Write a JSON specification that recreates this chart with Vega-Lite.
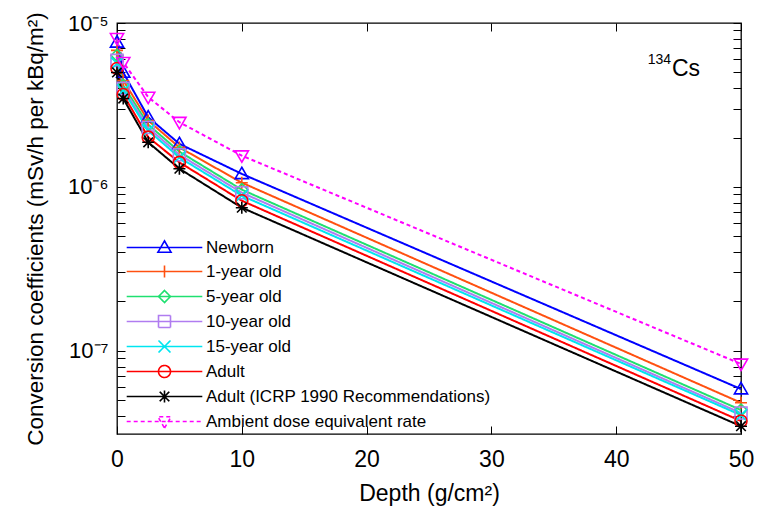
{
  "$schema": "https://vega.github.io/schema/vega-lite/v6.json",
  "width": 624,
  "height": 411,
  "autosize": {"type": "none"},
  "padding": {"left": 117, "top": 23, "right": 19, "bottom": 78},
  "background": "white",
  "config": {
    "view": {"stroke": "black", "strokeWidth": 1.3},
    "font": "Liberation Sans",
    "axis": {"grid": false, "domain": false, "tickColor": "black", "tickWidth": 1, "labelColor": "black", "titleColor": "black", "titleFontWeight": "normal", "labelFont": "Liberation Sans", "titleFont": "Liberation Sans"},
    "legend": {"orient": "none", "legendX": 39, "legendY": 216, "title": null, "padding": 0, "labelFont": "Liberation Sans", "labelFontSize": 17, "labelColor": "black", "labelLimit": 500, "symbolSize": 144, "symbolStrokeWidth": 1.6, "rowPadding": 6, "labelOffset": 33}
  },
  "data": {"values": [
    {"series": "Newborn", "depth": 0, "value": 7.62e-6},
    {"series": "Newborn", "depth": 0.5, "value": 4.99e-6},
    {"series": "Newborn", "depth": 2.5, "value": 2.66e-6},
    {"series": "Newborn", "depth": 5, "value": 1.83e-6},
    {"series": "Newborn", "depth": 10, "value": 1.20e-6},
    {"series": "Newborn", "depth": 50, "value": 5.83e-8},
    {"series": "1-year old", "depth": 0, "value": 6.81e-6},
    {"series": "1-year old", "depth": 0.5, "value": 4.46e-6},
    {"series": "1-year old", "depth": 2.5, "value": 2.54e-6},
    {"series": "1-year old", "depth": 5, "value": 1.74e-6},
    {"series": "1-year old", "depth": 10, "value": 1.06e-6},
    {"series": "1-year old", "depth": 50, "value": 4.81e-8},
    {"series": "5-year old", "depth": 0, "value": 6.34e-6},
    {"series": "5-year old", "depth": 0.5, "value": 4.16e-6},
    {"series": "5-year old", "depth": 2.5, "value": 2.40e-6},
    {"series": "5-year old", "depth": 5, "value": 1.64e-6},
    {"series": "5-year old", "depth": 10, "value": 9.61e-7},
    {"series": "5-year old", "depth": 50, "value": 4.34e-8},
    {"series": "10-year old", "depth": 0, "value": 5.91e-6},
    {"series": "10-year old", "depth": 0.5, "value": 3.99e-6},
    {"series": "10-year old", "depth": 2.5, "value": 2.30e-6},
    {"series": "10-year old", "depth": 5, "value": 1.57e-6},
    {"series": "10-year old", "depth": 10, "value": 9.21e-7},
    {"series": "10-year old", "depth": 50, "value": 4.16e-8},
    {"series": "15-year old", "depth": 0, "value": 5.67e-6},
    {"series": "15-year old", "depth": 0.5, "value": 3.88e-6},
    {"series": "15-year old", "depth": 2.5, "value": 2.21e-6},
    {"series": "15-year old", "depth": 5, "value": 1.51e-6},
    {"series": "15-year old", "depth": 10, "value": 8.83e-7},
    {"series": "15-year old", "depth": 50, "value": 4.04e-8},
    {"series": "Adult", "depth": 0, "value": 5.28e-6},
    {"series": "Adult", "depth": 0.5, "value": 3.66e-6},
    {"series": "Adult", "depth": 2.5, "value": 2.01e-6},
    {"series": "Adult", "depth": 5, "value": 1.41e-6},
    {"series": "Adult", "depth": 10, "value": 8.23e-7},
    {"series": "Adult", "depth": 50, "value": 3.72e-8},
    {"series": "Adult (ICRP 1990 Recommendations)", "depth": 0, "value": 4.99e-6},
    {"series": "Adult (ICRP 1990 Recommendations)", "depth": 0.5, "value": 3.46e-6},
    {"series": "Adult (ICRP 1990 Recommendations)", "depth": 2.5, "value": 1.87e-6},
    {"series": "Adult (ICRP 1990 Recommendations)", "depth": 5, "value": 1.29e-6},
    {"series": "Adult (ICRP 1990 Recommendations)", "depth": 10, "value": 7.46e-7},
    {"series": "Adult (ICRP 1990 Recommendations)", "depth": 50, "value": 3.46e-8},
    {"series": "Ambient dose equivalent rate", "depth": 0, "value": 8.06e-6},
    {"series": "Ambient dose equivalent rate", "depth": 0.5, "value": 5.75e-6},
    {"series": "Ambient dose equivalent rate", "depth": 2.5, "value": 3.53e-6},
    {"series": "Ambient dose equivalent rate", "depth": 5, "value": 2.48e-6},
    {"series": "Ambient dose equivalent rate", "depth": 10, "value": 1.55e-6},
    {"series": "Ambient dose equivalent rate", "depth": 50, "value": 8.3e-8}
  ]},
  "layer": [
    {
      "mark": {"type": "line", "strokeWidth": 2},
      "encoding": {
        "x": {"field": "depth", "type": "quantitative", "scale": {"domain": [0, 50], "nice": false, "zero": false},
              "axis": {"orient": "bottom", "values": [0, 10, 20, 30, 40, 50], "format": "d", "title": "Depth (g/cm²)", "labelFontSize": 23, "titleFontSize": 23, "tickSize": -8, "labelPadding": 22, "titlePadding": 11, "labelFlush": false}},
        "y": {"field": "value", "type": "quantitative", "scale": {"type": "log", "domain": [3.1e-8, 1e-5], "nice": false},
              "axis": {"orient": "left", "values": [4e-8, 5e-8, 6e-8, 7e-8, 8e-8, 9e-8, 1e-7, 2e-7, 3e-7, 4e-7, 5e-7, 6e-7, 7e-7, 8e-7, 9e-7, 1e-6, 2e-6, 3e-6, 4e-6, 5e-6, 6e-6, 7e-6, 8e-6, 9e-6, 1e-5],
                       "labelExpr": "abs(datum.value-1e-5)<1e-9 ? '10⁻⁵' : abs(datum.value-1e-6)<1e-10 ? '10⁻⁶' : abs(datum.value-1e-7)<1e-11 ? '10⁻⁷' : ''",
                       "title": "Conversion coefficients (mSv/h per kBq/m²)", "labelFontSize": 22, "titleFontSize": 22.5, "tickSize": -8, "labelPadding": 17, "titlePadding": 20, "labelFlush": false}},
        "color": {"field": "series", "type": "nominal",
                  "scale": {"domain": ["Newborn", "1-year old", "5-year old", "10-year old", "15-year old", "Adult", "Adult (ICRP 1990 Recommendations)", "Ambient dose equivalent rate"],
                            "range": ["#0000FF", "#FF5010", "#1FE070", "#B07CF0", "#00E5F0", "#FF0000", "#000000", "#FF00FF"]}},
        "strokeDash": {"field": "series", "type": "nominal",
                       "scale": {"domain": ["Newborn", "1-year old", "5-year old", "10-year old", "15-year old", "Adult", "Adult (ICRP 1990 Recommendations)", "Ambient dose equivalent rate"],
                                 "range": [[1, 0], [1, 0], [1, 0], [1, 0], [1, 0], [1, 0], [1, 0], [4, 3]]}}
      }
    },
    {
      "transform": [{"filter": "false"}],
      "mark": {"type": "point", "filled": false, "strokeWidth": 1.6, "opacity": 1},
      "encoding": {
        "x": {"field": "depth", "type": "quantitative", "axis": {"orient": "top", "values": [0, 10, 20, 30, 40, 50], "labels": false, "title": null, "tickSize": -8}},
        "y": {"field": "value", "type": "quantitative", "axis": {"orient": "right", "values": [4e-8, 5e-8, 6e-8, 7e-8, 8e-8, 9e-8, 1e-7, 2e-7, 3e-7, 4e-7, 5e-7, 6e-7, 7e-7, 8e-7, 9e-7, 1e-6, 2e-6, 3e-6, 4e-6, 5e-6, 6e-6, 7e-6, 8e-6, 9e-6, 1e-5], "labels": false, "title": null, "tickSize": -8}},
        "color": {"field": "series", "type": "nominal"},
        "strokeDash": {"field": "series", "type": "nominal"},
        "shape": {"field": "series", "type": "nominal",
                  "scale": {"domain": ["Newborn", "1-year old", "5-year old", "10-year old", "15-year old", "Adult", "Adult (ICRP 1990 Recommendations)", "Ambient dose equivalent rate"],
                            "range": ["M-6.3,0H6.3M0,-1.1L1.1,0.8L-1.1,0.8Z", "M-6.3,0H6.3M0,-1V1", "M-6.3,0H6.3M0,-1L1,0L0,1L-1,0Z", "M-6.3,0H6.3M-1,-1H1V1H-1Z", "M-6.3,0H6.3M-1,-1L1,1M1,-1L-1,1", "M-6.3,0H6.3M1,0A1,1,0,1,1,-1,0A1,1,0,1,1,1,0", "M-6.3,0H6.3M0,-1V1M-0.8,-0.8L0.8,0.8M0.8,-0.8L-0.8,0.8", "M-6.3,0H6.3M0,1.1L1.1,-0.8L-1.1,-0.8Z"]}}
      }
    },
    {
      "transform": [{"filter": "datum.series === 'Newborn'"}],
      "mark": {"type": "point", "shape": "M0,-1.1L1.1,0.8L-1.1,0.8Z", "filled": false, "strokeWidth": 1.6, "size": 144, "opacity": 1},
      "encoding": {"x": {"field": "depth", "type": "quantitative", "axis": null}, "y": {"field": "value", "type": "quantitative", "axis": null}, "color": {"field": "series", "type": "nominal"}}
    },
    {
      "transform": [{"filter": "datum.series === '1-year old'"}],
      "mark": {"type": "point", "shape": "M-1,0H1M0,-1V1", "filled": false, "strokeWidth": 1.6, "size": 144, "opacity": 1},
      "encoding": {"x": {"field": "depth", "type": "quantitative", "axis": null}, "y": {"field": "value", "type": "quantitative", "axis": null}, "color": {"field": "series", "type": "nominal"}}
    },
    {
      "transform": [{"filter": "datum.series === '5-year old'"}],
      "mark": {"type": "point", "shape": "M0,-1L1,0L0,1L-1,0Z", "filled": false, "strokeWidth": 1.6, "size": 144, "opacity": 1},
      "encoding": {"x": {"field": "depth", "type": "quantitative", "axis": null}, "y": {"field": "value", "type": "quantitative", "axis": null}, "color": {"field": "series", "type": "nominal"}}
    },
    {
      "transform": [{"filter": "datum.series === '10-year old'"}],
      "mark": {"type": "point", "shape": "M-1,-1H1V1H-1Z", "filled": false, "strokeWidth": 1.6, "size": 144, "opacity": 1},
      "encoding": {"x": {"field": "depth", "type": "quantitative", "axis": null}, "y": {"field": "value", "type": "quantitative", "axis": null}, "color": {"field": "series", "type": "nominal"}}
    },
    {
      "transform": [{"filter": "datum.series === '15-year old'"}],
      "mark": {"type": "point", "shape": "M-1,-1L1,1M1,-1L-1,1", "filled": false, "strokeWidth": 1.6, "size": 144, "opacity": 1},
      "encoding": {"x": {"field": "depth", "type": "quantitative", "axis": null}, "y": {"field": "value", "type": "quantitative", "axis": null}, "color": {"field": "series", "type": "nominal"}}
    },
    {
      "transform": [{"filter": "datum.series === 'Adult'"}],
      "mark": {"type": "point", "shape": "circle", "filled": false, "strokeWidth": 1.6, "size": 144, "opacity": 1},
      "encoding": {"x": {"field": "depth", "type": "quantitative", "axis": null}, "y": {"field": "value", "type": "quantitative", "axis": null}, "color": {"field": "series", "type": "nominal"}}
    },
    {
      "transform": [{"filter": "datum.series === 'Adult (ICRP 1990 Recommendations)'"}],
      "mark": {"type": "point", "shape": "M-1,0H1M0,-1V1M-0.8,-0.8L0.8,0.8M0.8,-0.8L-0.8,0.8", "filled": false, "strokeWidth": 1.6, "size": 144, "opacity": 1},
      "encoding": {"x": {"field": "depth", "type": "quantitative", "axis": null}, "y": {"field": "value", "type": "quantitative", "axis": null}, "color": {"field": "series", "type": "nominal"}}
    },
    {
      "transform": [{"filter": "datum.series === 'Ambient dose equivalent rate'"}],
      "mark": {"type": "point", "shape": "M0,1.1L1.1,-0.8L-1.1,-0.8Z", "filled": false, "strokeWidth": 1.6, "size": 144, "opacity": 1},
      "encoding": {"x": {"field": "depth", "type": "quantitative", "axis": null}, "y": {"field": "value", "type": "quantitative", "axis": null}, "color": {"field": "series", "type": "nominal"}}
    },
    {
      "data": {"values": [{"label": "Cs"}]},
      "mark": {"type": "text", "fontSize": 23, "font": "Liberation Sans", "align": "left", "baseline": "middle", "fill": "black"},
      "encoding": {
        "x": {"datum": 44.47, "type": "quantitative", "axis": null},
        "y": {"datum": 5.21e-6, "type": "quantitative", "axis": null},
        "text": {"field": "label"}
      }
    },
    {
      "data": {"values": [{"label": "134"}]},
      "mark": {"type": "text", "fontSize": 14, "font": "Liberation Sans", "align": "right", "baseline": "middle", "fill": "black", "dx": -1, "dy": -9},
      "encoding": {
        "x": {"datum": 44.47, "type": "quantitative", "axis": null},
        "y": {"datum": 5.21e-6, "type": "quantitative", "axis": null},
        "text": {"field": "label"}
      }
    }
  ],
  "resolve": {"axis": {"x": "independent", "y": "independent"}}
}
